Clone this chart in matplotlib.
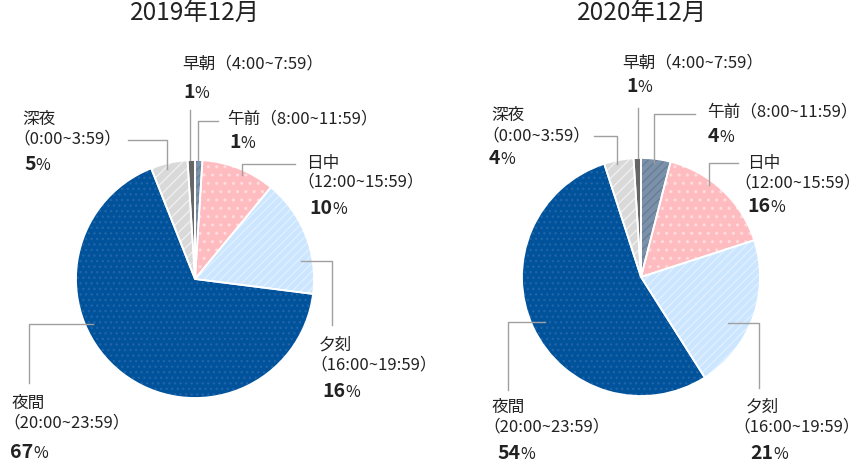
import matplotlib.pyplot as plt

plt.rcParams['font.family'] = ['Noto Sans CJK JP', 'DejaVu Sans']

# data
titles = ['2019年12月', '2020年12月']
names = ['午前', '日中', '夕刻', '夜間', '深夜', '早朝']
times = ['8:00~11:59', '12:00~15:59', '16:00~19:59', '20:00~23:59', '0:00~3:59', '4:00~7:59']
share_2019 = [1, 10, 16, 67, 5, 1]
share_2020 = [4, 16, 21, 54, 4, 1]

colors = ['#7b91aa', '#ffbcc0', '#cce6ff', '#00529b', '#d9d9d9', '#666666']
hatch_colors = ['#687e97', '#ffdcde', '#e0f0ff', '#1f64a8', '#efefef', '#666666']
hatches = ['////', '..', '////', '...', '///', '']

# layout in pixels (y from top): name x, name y, time x, time y (None = same line), pct x, pct y
charts = [
    dict(values=share_2019, center=(195, 279), title_x=195,
         labels=[(227, 119, None, None, 229, 142), (306, 163, 297, 182, 309, 208),
                 (319, 345, 310, 365, 322, 391), (12, 403, 3, 423, 10, 452),
                 (22, 119, 13, 139, 24, 164), (182, 64, None, None, 183, 92)],
         leaders=[[(218, 121), (198, 121), (198, 160)],
                  [(295, 164), (242, 164), (242, 175)],
                  [(301, 261), (332, 261), (332, 325)],
                  [(93, 324), (29, 324), (29, 383)],
                  [(128, 140), (167, 140), (167, 169)],
                  [(190, 110), (190, 160)]]),
    dict(values=share_2020, center=(641, 277), title_x=642,
         labels=[(707, 112, None, None, 708, 136), (747, 163, 734, 183, 747, 206),
                 (746, 407, 733, 427, 750, 453), (492, 407, 483, 427, 497, 453),
                 (491, 115, 482, 136, 489, 158), (622, 63, None, None, 626, 87)],
         leaders=[[(695, 114), (654, 114), (654, 163)],
                  [(738, 163), (709, 163), (709, 185)],
                  [(728, 323), (759, 323), (759, 388)],
                  [(545, 322), (508, 322), (508, 390)],
                  [(594, 136), (617, 136), (617, 164)],
                  [(638, 108), (638, 158)]]),
]

fig = plt.figure(figsize=(8.6, 4.61), dpi=100)
ax = fig.add_axes([0, 0, 1, 1])
txt = '#222222'
lab_fs = 12

for ch, title in zip(charts, titles):
    # fill, hatch overlay, white edges (y axis is flipped, so counterclock=True reads clockwise)
    base, _ = ax.pie(ch['values'], colors=colors, startangle=-90, counterclock=True,
                     radius=119, center=ch['center'], wedgeprops=dict(linewidth=0))
    hat, _ = ax.pie(ch['values'], startangle=-90, counterclock=True, radius=119,
                    center=ch['center'], hatch=hatches,
                    wedgeprops=dict(facecolor='none', linewidth=0))
    for w, hc in zip(hat, hatch_colors):
        w.set_edgecolor(hc)
        w.set_linewidth(0)
    ax.pie(ch['values'], startangle=-90, counterclock=True, radius=119,
           center=ch['center'],
           wedgeprops=dict(facecolor='none', edgecolor='white', linewidth=1.3))

    ax.text(ch['title_x'], 14, title, fontsize=17.5, ha='center', va='center', color=txt)

    for i, (nx, ny, tx, ty, px, py) in enumerate(ch['labels']):
        if ty is None:
            ax.text(nx, ny, f'{names[i]}（{times[i]}）', fontsize=lab_fs, va='center', color=txt)
        else:
            ax.text(nx, ny, names[i], fontsize=lab_fs, va='center', color=txt)
            ax.text(tx, ty, f'（{times[i]}）', fontsize=lab_fs, va='center', color=txt)
        t = ax.text(px, py, str(ch['values'][i]), fontsize=14, fontweight='bold',
                    va='center', color=txt)
        ax.annotate('%', xy=(1, 0), xycoords=t, xytext=(0, 0), textcoords='offset points',
                    fontsize=11.5, va='bottom', ha='left', color=txt)

    for pts in ch['leaders']:
        xs = [p[0] for p in pts]
        ys = [p[1] for p in pts]
        ax.plot(xs, ys, color='#a0a0a0', linewidth=1)

ax.set_xlim(0, 860)
ax.set_ylim(461, 0)
ax.set_aspect('auto')
ax.axis('off')

fig.savefig('out.png', dpi=100, facecolor='white')
